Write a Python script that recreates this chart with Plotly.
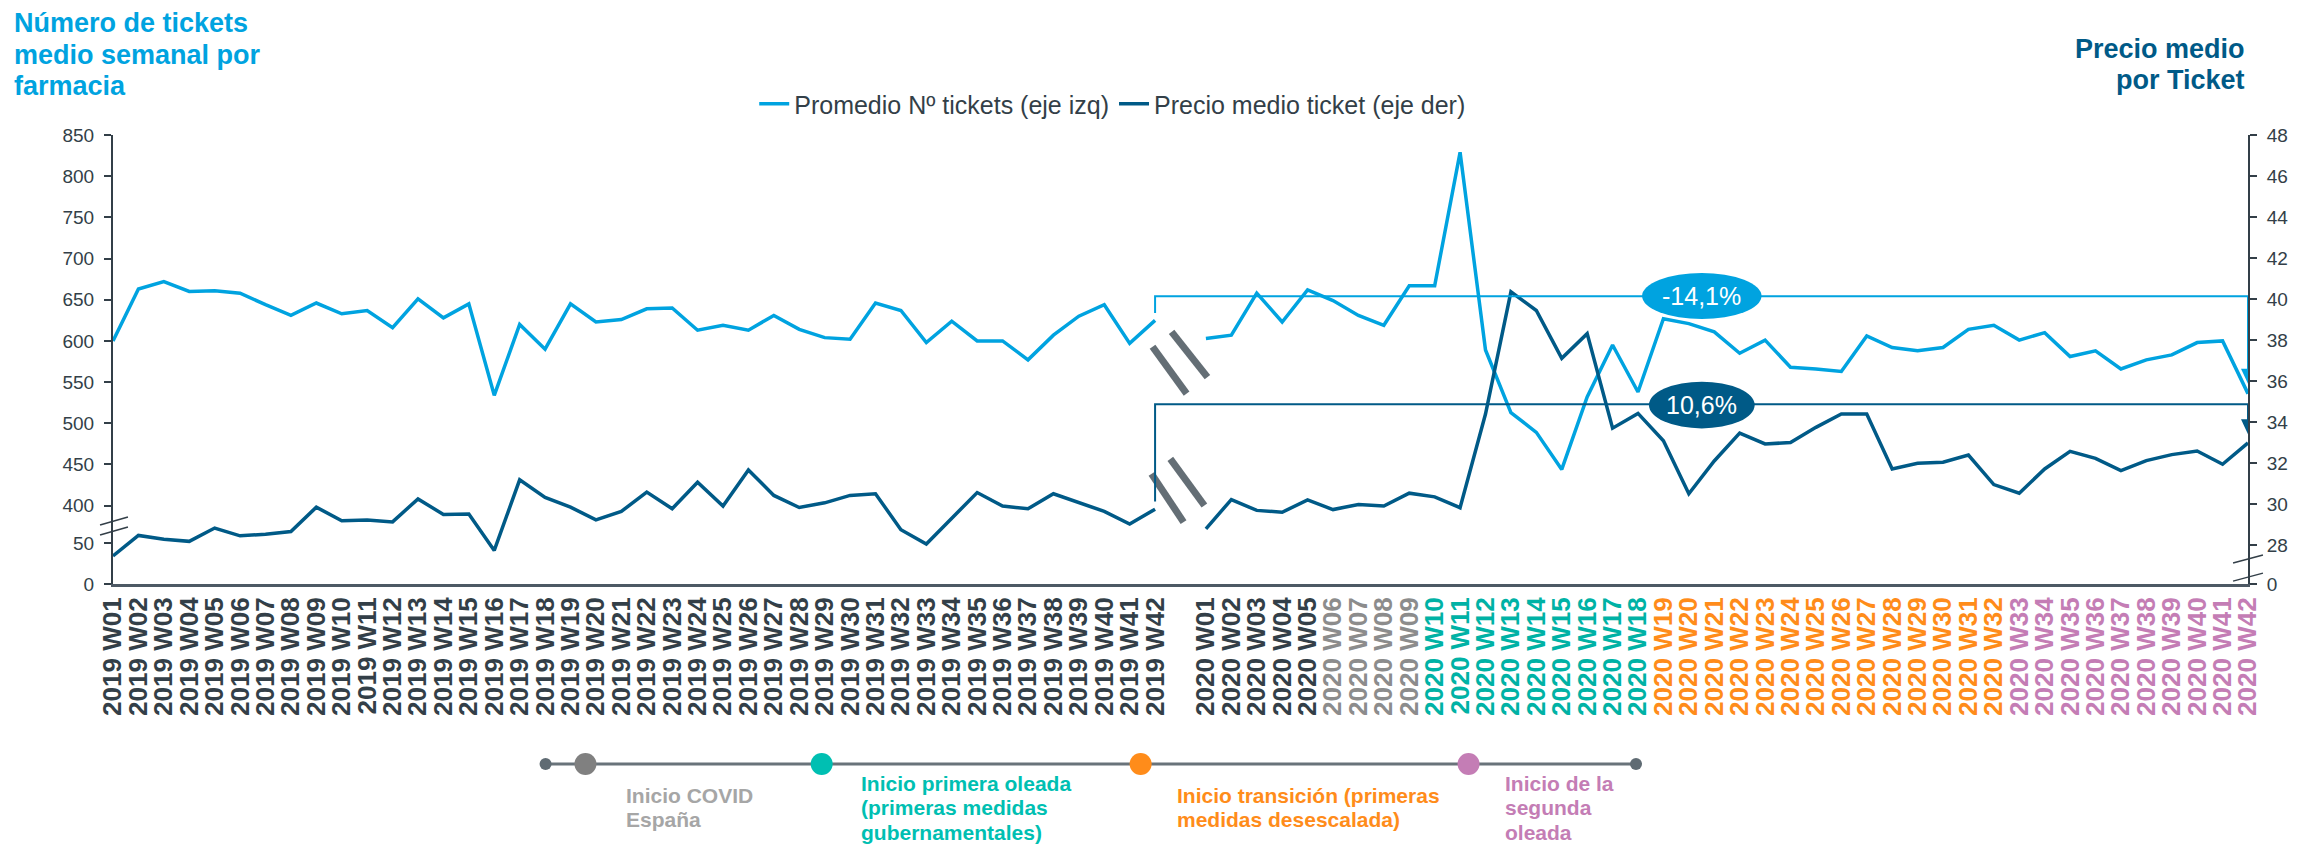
import plotly.graph_objects as go

LIGHT = "#00A3E0"
DARK = "#005A87"
AXIS = "#333F48"
GRAY = "#8C8C8C"
TEAL = "#00B2A5"
ORANGE = "#FF8C1A"
PINK = "#C47DB5"

# weekly data, 2019 W01..W42 and 2020 W01..W42
tickets_2019 = [600, 663, 672, 660, 661, 658, 644, 631, 646, 633, 637, 616, 651, 628,
                645, 534, 620, 590, 645, 623, 626, 639, 640, 613, 619, 613, 631, 614,
                604, 602, 646, 637, 598, 624, 600, 600, 577, 607, 630, 644, 597, 625]
tickets_2020 = [603, 607, 658, 623, 662, 649, 631, 619, 667, 667, 829, 589, 513, 489,
                444, 532, 595, 538, 627, 621, 611, 585, 601, 568, 566, 563, 606, 592,
                588, 592, 614, 619, 601, 610, 581, 588, 566, 577, 583, 598, 600, 536]
price_2019 = [27.47, 28.47, 28.28, 28.18, 28.83, 28.45, 28.53, 28.66, 29.85, 29.18, 29.22,
              29.13, 30.25, 29.49, 29.51, 27.74, 31.18, 30.32, 29.85, 29.23, 29.64, 30.58,
              29.77, 31.06, 29.90, 31.66, 30.42, 29.83, 30.06, 30.42, 30.50, 28.75, 28.05,
              29.28, 30.56, 29.90, 29.77, 30.50, 30.06, 29.64, 29.02, 29.75]
price_2020 = [28.79, 30.22, 29.69, 29.60, 30.20, 29.73, 29.98, 29.90, 30.53, 30.35, 29.82,
              34.39, 40.35, 39.44, 37.11, 38.31, 33.70, 34.42, 33.09, 30.50, 32.10, 33.46,
              32.93, 33.00, 33.74, 34.39, 34.39, 31.71, 31.99, 32.04, 32.39, 30.95, 30.53,
              31.71, 32.57, 32.23, 31.63, 32.12, 32.41, 32.59, 31.94, 32.98]

labels_2019 = ["2019 W%02d" % w for w in range(1, 43)]
labels_2020 = ["2020 W%02d" % w for w in range(1, 43)]

# phases of 2020 (first week of each)
covid_start, first_wave, transition, second_wave = 6, 10, 19, 33

left_ticks = [0, 50, 400, 450, 500, 550, 600, 650, 700, 750, 800, 850]
right_ticks = [0, 28, 30, 32, 34, 36, 38, 40, 42, 44, 46, 48]

pct_tickets = "-14,1%"
pct_price = "10,6%"

left_title = ["Número de tickets", "medio semanal por", "farmacia"]
right_title = ["Precio medio", "por Ticket"]
milestones = [
    (["Inicio COVID", "España"], "#A6A6A6"),
    (["Inicio primera oleada", "(primeras medidas", "gubernamentales)"], "#00BFB2"),
    (["Inicio transición (primeras", "medidas desescalada)"], ORANGE),
    (["Inicio de la", "segunda", "oleada"], PINK),
]

# x positions: 2019 weeks, one empty slot, 2020 weeks
x_2019 = list(range(0, 42))
x_2020 = list(range(43, 85))
xs = x_2019 + [42] + x_2020
tickets = tickets_2019 + [None] + tickets_2020
price = price_2019 + [None] + price_2020


def week_color(w):
    if w >= second_wave:
        return PINK
    if w >= transition:
        return ORANGE
    if w >= first_wave:
        return TEAL
    if w >= covid_start:
        return GRAY
    return AXIS


tickvals = x_2019 + x_2020
ticktext = labels_2019 + ["<span style='color:%s'>%s</span>" % (week_color(i + 1), lab)
                          for i, lab in enumerate(labels_2020)]

# broken axes: low ticks are drawn just below the break
L_ZERO, L_FIFTY = 304.9, 354.4
R_ZERO = 26.1
left_vals = [L_ZERO, L_FIFTY] + left_ticks[2:]
right_vals = [R_ZERO] + right_ticks[1:]

fig = go.Figure()
fig.add_trace(go.Scatter(x=xs, y=tickets, mode="lines", name="Promedio Nº tickets (eje izq)",
                         line=dict(color=LIGHT, width=3.5), connectgaps=False))
fig.add_trace(go.Scatter(x=xs, y=price, mode="lines", name="Precio medio ticket (eje der)",
                         line=dict(color=DARK, width=3.5), connectgaps=False, yaxis="y2"))

# the page has an 8px body margin, so the figure is 8px smaller than the window
OFF = 8
W, H = 2300 - OFF, 844 - OFF
ML, MT = 113 - OFF, 135 - OFF
PW, PH = 2142, 449
MR, MB = W - ML - PW, H - MT - PH


def px2x(px):
    # page pixel -> paper x
    return (px - OFF - ML) / PW


def px2y(py):
    # page pixel -> paper y
    return (MT + PH - (py - OFF)) / PH


shapes = []
annotations = []

# break marks on both y axes
for yy in [(376.6, 386.3), (364.4, 374.2)]:
    shapes.append(dict(type="line", xref="paper", yref="y", x0=px2x(100), x1=px2x(128),
                       y0=yy[0], y1=yy[1], line=dict(color=AXIS, width=1.5)))
for yy in [(27.12, 27.51), (26.24, 26.63)]:
    shapes.append(dict(type="line", xref="paper", yref="y2", x0=px2x(2240), x1=px2x(2270),
                       y0=yy[0], y1=yy[1], line=dict(color=AXIS, width=1.5)))

# "//" marks in the gap between years
for x0, y0, x1, y1 in [(40.9, 593, 42.24, 536), (41.65, 611, 43.06, 556)]:
    shapes.append(dict(type="line", xref="x", yref="y", x0=x0, y0=y0, x1=x1, y1=y1,
                       line=dict(color="#646E75", width=7)))
for x0, y0, x1, y1 in [(40.86, 31.47, 42.12, 29.12), (41.6, 32.2, 42.94, 29.93)]:
    shapes.append(dict(type="line", xref="x", yref="y2", x0=x0, y0=y0, x1=x1, y1=y1,
                       line=dict(color="#646E75", width=7)))

# brackets comparing 2019 W42 and 2020 W42
shapes.append(dict(type="path", xref="x", yref="y", path="M 41,634 L 41,654.3 L 84,654.3 L 84,560",
                   line=dict(color=LIGHT, width=2)))
shapes.append(dict(type="path", xref="x", yref="y", xsizemode="pixel", ysizemode="pixel",
                   xanchor=84, yanchor=548, path="M -7,15 L 7,15 L 0,0 Z",
                   fillcolor=LIGHT, line=dict(width=0)))
shapes.append(dict(type="path", xref="x", yref="y2", path="M 41,30.12 L 41,34.87 L 84,34.87 L 84,34.0",
                   line=dict(color=DARK, width=2)))
shapes.append(dict(type="path", xref="x", yref="y2", xsizemode="pixel", ysizemode="pixel",
                   xanchor=84, yanchor=33.41, path="M -7,15 L 7,15 L 0,0 Z",
                   fillcolor=DARK, line=dict(width=0)))
shapes.append(dict(type="circle", xref="x", yref="y", x0=60.16, x1=64.86, y0=626.6, y1=682.5,
                   fillcolor=LIGHT, line=dict(width=0)))
shapes.append(dict(type="circle", xref="x", yref="y2", x0=60.43, x1=64.59, y0=33.69, y1=35.97,
                   fillcolor=DARK, line=dict(width=0)))
annotations.append(dict(x=62.5, y=654.3, xref="x", yref="y", text=pct_tickets, showarrow=False,
                        font=dict(size=25, color="white")))
annotations.append(dict(x=62.5, y=34.83, xref="x", yref="y2", text=pct_price, showarrow=False,
                        font=dict(size=25, color="white")))

# titles, one line at a time to control line spacing
for i, line in enumerate(left_title):
    annotations.append(dict(x=px2x(12), y=px2y(23 + 31.5 * i), xref="paper", yref="paper",
                            xanchor="left", yanchor="middle", showarrow=False,
                            text="<b>%s</b>" % line, font=dict(size=27, color=LIGHT)))
for i, line in enumerate(right_title):
    annotations.append(dict(x=px2x(2254), y=px2y(49 + 31.5 * i), xref="paper", yref="paper",
                            xanchor="right", yanchor="middle", showarrow=False,
                            text="<b>%s</b>" % line, font=dict(size=27, color=DARK)))

# timeline at the bottom
TL_Y = px2y(764)
shapes.append(dict(type="line", xref="paper", yref="paper", x0=px2x(547), x1=px2x(1641),
                   y0=TL_Y, y1=TL_Y, line=dict(color="#69737A", width=3)))
for px, r, col in [(547, 6, "#5F6B73"), (1641, 6, "#5F6B73"), (587, 11, "#808080"),
                   (824, 11, "#00BFB2"), (1144, 11, ORANGE), (1473, 11, PINK)]:
    shapes.append(dict(type="circle", xref="paper", yref="paper", xsizemode="pixel",
                       ysizemode="pixel", xanchor=px2x(px), yanchor=TL_Y,
                       x0=-r, x1=r, y0=-r, y1=r, fillcolor=col, line=dict(width=0)))
for (lines, col), px in zip(milestones, [626, 861, 1178, 1508]):
    top = 795 if len(lines) == 2 else 783
    for i, line in enumerate(lines):
        annotations.append(dict(x=px2x(px), y=px2y(top + 24.5 * i), xref="paper", yref="paper",
                                xanchor="left", yanchor="middle", showarrow=False,
                                text="<b>%s</b>" % line, font=dict(size=21, color=col)))

fig.update_layout(
    width=W, height=H,
    margin=dict(l=ML, r=MR, t=MT, b=MB, pad=0),
    paper_bgcolor="white", plot_bgcolor="white",
    font=dict(family="Arial, Liberation Sans, sans-serif", color=AXIS),
    showlegend=True,
    legend=dict(orientation="h", x=px2x(1116), y=px2y(104), xanchor="center", yanchor="middle",
                font=dict(size=25, color=AXIS), bgcolor="rgba(0,0,0,0)"),
    xaxis=dict(range=[0, 84], tickvals=tickvals, ticktext=ticktext, tickangle=-90,
               tickfont=dict(size=26, color=AXIS, weight="bold"), showgrid=False,
               zeroline=False, showline=True, linecolor="#4D5964", linewidth=3, ticks=""),
    yaxis=dict(range=[L_ZERO, 850], tickvals=left_vals, ticktext=[str(v) for v in left_ticks],
               showgrid=False, zeroline=False, showline=True, linecolor=AXIS, linewidth=2,
               ticks="outside", ticklen=7, tickwidth=2, tickcolor=AXIS,
               tickfont=dict(size=19, color=AXIS), ticklabelstandoff=6),
    yaxis2=dict(range=[R_ZERO, 48], tickvals=right_vals, ticktext=[str(v) for v in right_ticks],
                overlaying="y", side="right", showgrid=False, zeroline=False, showline=True,
                linecolor=AXIS, linewidth=2, ticks="outside", ticklen=7, tickwidth=2,
                tickcolor=AXIS, tickfont=dict(size=19, color=AXIS), ticklabelstandoff=6),
    shapes=shapes,
    annotations=annotations,
)

fig.write_html("out.html")
